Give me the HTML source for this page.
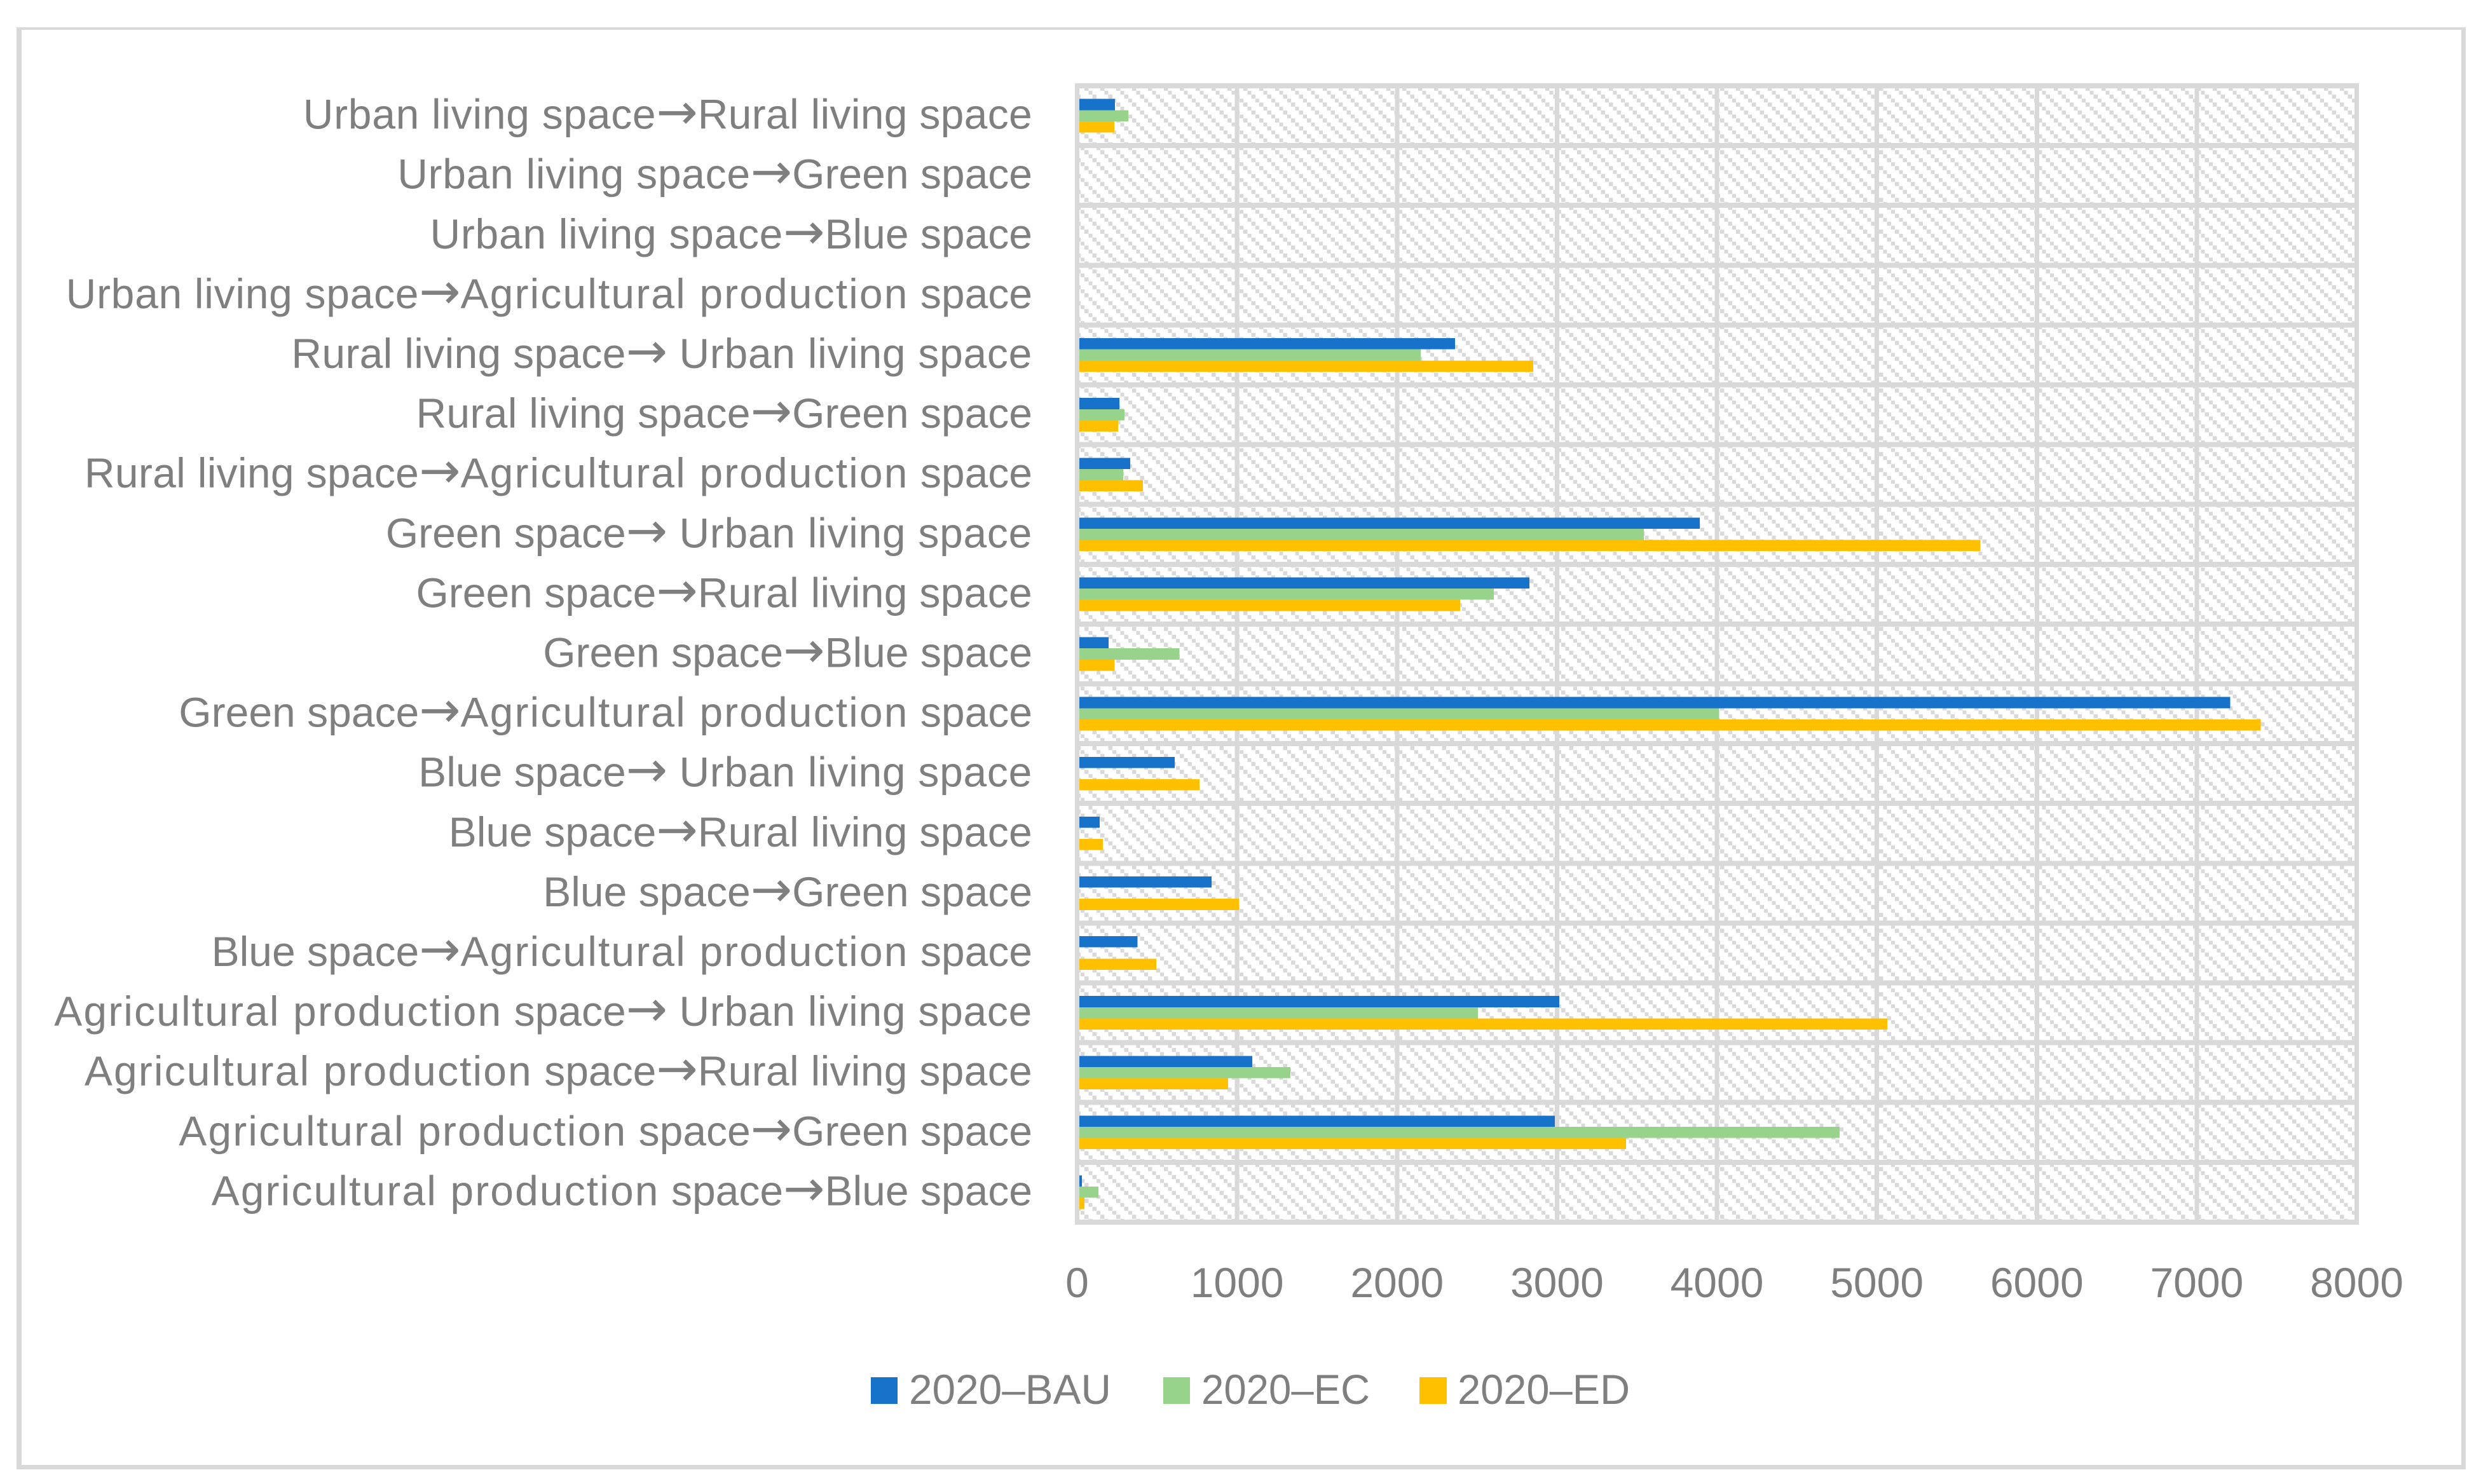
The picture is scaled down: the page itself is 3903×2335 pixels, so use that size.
<!DOCTYPE html>
<html lang="en">
<head>
<meta charset="utf-8">
<title>Land space transfer chart</title>
<style>
html,body{margin:0;padding:0;background:#fff;width:3903px;height:2335px;overflow:hidden}
svg{display:block}
text{font-family:"Liberation Sans",sans-serif;font-size:66px;fill:#7f7f7f}
.agri{letter-spacing:2.1px}
.urban{letter-spacing:.7px}
.rural{letter-spacing:.3px}
.arrow{font-family:"DejaVu Sans",sans-serif;font-size:78px}
</style>
</head>
<body>
<svg id="chart" xmlns="http://www.w3.org/2000/svg" width="3903" height="2335" viewBox="0 0 3903 2335">
  <defs>
    <pattern id="hatch" patternUnits="userSpaceOnUse" x="1706" y="236.3" width="25" height="25">
      <rect x="0" y="0" width="6.25" height="6.25" fill="#d9d9d9" shape-rendering="crispEdges"/>
      <rect x="6.25" y="6.25" width="6.25" height="6.25" fill="#d9d9d9" shape-rendering="crispEdges"/>
      <rect x="12.5" y="12.5" width="6.25" height="6.25" fill="#d9d9d9" shape-rendering="crispEdges"/>
      <rect x="18.75" y="18.75" width="6.25" height="6.25" fill="#d9d9d9" shape-rendering="crispEdges"/>
    </pattern>
  </defs>
  <rect width="3903" height="2335" fill="#ffffff"/>
  <g fill="#d9d9d9" shape-rendering="crispEdges">
    <rect x="26" y="43" width="3853" height="4"/>
    <rect x="26" y="43" width="8" height="2269"/>
    <rect x="3872" y="43" width="7" height="2269"/>
    <rect x="26" y="2305" width="3853" height="7"/>
  </g>
  <rect x="1691" y="131" width="2020" height="1796" fill="url(#hatch)"/>
  <g id="grid" fill="#d9d9d9" shape-rendering="crispEdges"></g>
  <g id="bars" shape-rendering="crispEdges"></g>
  <g id="axis" fill="#d9d9d9" shape-rendering="crispEdges"></g>
  <g id="yLabels"></g>
  <g id="xLabels"></g>
  <g shape-rendering="crispEdges">
    <g>
      <rect x="1370" y="2167" width="42" height="42" fill="#1772ca"/>
      <text x="1430" y="2209" textLength="318" lengthAdjust="spacingAndGlyphs">2020–BAU</text>
    </g>
    <g>
      <rect x="1830" y="2167" width="42" height="42" fill="#97d38b"/>
      <text x="1890" y="2209" textLength="265" lengthAdjust="spacingAndGlyphs">2020–EC</text>
    </g>
    <g>
      <rect x="2233" y="2167" width="43" height="42" fill="#ffc000"/>
      <text x="2293" y="2209" textLength="271" lengthAdjust="spacingAndGlyphs">2020–ED</text>
    </g>
  </g>
</svg>
<script>
const categories = [
  "Urban living space→Rural living space",
  "Urban living space→Green space",
  "Urban living space→Blue space",
  "Urban living space→Agricultural production space",
  "Rural living space→ Urban living space",
  "Rural living space→Green space",
  "Rural living space→Agricultural production space",
  "Green space→ Urban living space",
  "Green space→Rural living space",
  "Green space→Blue space",
  "Green space→Agricultural production space",
  "Blue space→ Urban living space",
  "Blue space→Rural living space",
  "Blue space→Green space",
  "Blue space→Agricultural production space",
  "Agricultural production space→ Urban living space",
  "Agricultural production space→Rural living space",
  "Agricultural production space→Green space",
  "Agricultural production space→Blue space"
];
const seriesBAU = [236, 0, 0, 0, 2363, 265, 332, 3892, 2828, 197, 7210, 610, 141, 840, 378, 3015, 1095, 2987, 30];
const seriesEC = [320, 0, 0, 0, 2148, 296, 288, 3542, 2605, 640, 4013, 0, 0, 0, 0, 2505, 1333, 4768, 133];
const seriesED = [232, 0, 0, 0, 2852, 256, 412, 5647, 2395, 235, 7400, 765, 161, 1011, 495, 5066, 943, 3432, 46];
const xTicks = [0, 1000, 2000, 3000, 4000, 5000, 6000, 7000, 8000];
const seriesColors = ["#1772ca", "#97d38b", "#ffc000"];

const NS = "http://www.w3.org/2000/svg";
const plotTop = 135, rowStep = 94.1, x0 = 1694.5, unit = 2013 / 8000, barH = 17.6;
const xScale = v => x0 + v * unit;
const rowTop = i => plotTop + i * rowStep;
const rowMid = i => rowTop(i) + rowStep / 2;
const phraseClass = { "Agricultural production": "agri", "Urban living space": "urban", "Rural living space": "rural", "→": "arrow" };

function rect(parent, x, y, w, h, fill) {
  const r = document.createElementNS(NS, "rect");
  r.setAttribute("x", x);
  r.setAttribute("y", y);
  r.setAttribute("width", w);
  r.setAttribute("height", h);
  if (fill) r.setAttribute("fill", fill);
  parent.appendChild(r);
  return r;
}

const grid = document.getElementById("grid");
const bars = document.getElementById("bars");
const axis = document.getElementById("axis");
const yLabels = document.getElementById("yLabels");
const xLabels = document.getElementById("xLabels");

for (let i = 0; i <= categories.length; i++) {
  const line = rect(grid, 1691, rowTop(i) - 4, 2020, 8);
  
  
}

xTicks.forEach(t => {
  const target = t === 0 ? axis : grid;
  const line = rect(target, xScale(t) - 3.5, 131, 7, 1796);
  
  
  const label = document.createElementNS(NS, "text");
  label.setAttribute("x", xScale(t));
  label.setAttribute("y", 2041);
  label.setAttribute("text-anchor", "middle");
  label.textContent = String(t);
  
  
  xLabels.appendChild(label);
});

[seriesBAU, seriesEC, seriesED].forEach((values, s) => {
  values.forEach((v, i) => {
    if (v <= 0) return;
    const y = rowMid(i) - 1.5 * barH + s * barH;
    const bar = rect(bars, x0, y, xScale(v) - x0, barH, seriesColors[s]);
    
    
  });
});

categories.forEach((c, i) => {
  const label = document.createElementNS(NS, "text");
  label.setAttribute("x", 1624);
  label.setAttribute("y", rowMid(i) + 20.5);
  label.setAttribute("text-anchor", "end");
  
  
  c.split(/(Agricultural production|Urban living space|Rural living space|→)/).forEach(part => {
    if (!part) return;
    const span = document.createElementNS(NS, "tspan");
    if (phraseClass[part]) span.setAttribute("class", phraseClass[part]);
    span.textContent = part;
    label.appendChild(span);
  });
  yLabels.appendChild(label);
});
</script>
</body>
</html>
